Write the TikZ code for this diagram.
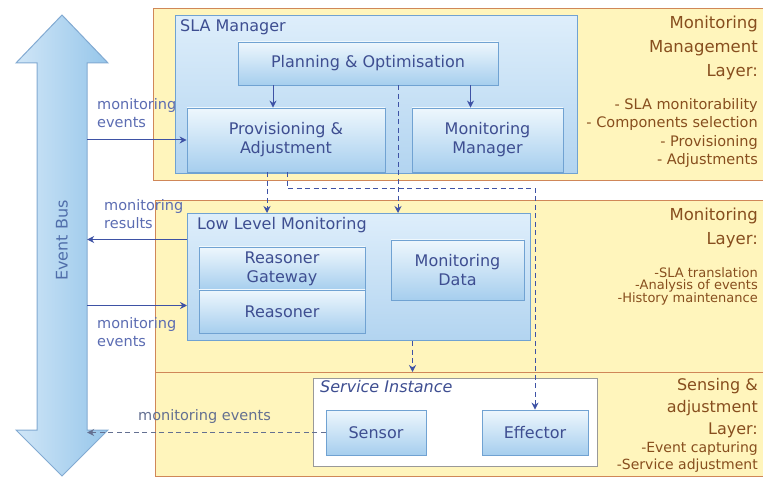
\documentclass[tikz,border=0pt]{standalone}
\usepackage{fontspec}
\setmainfont{DejaVu Sans}
\usetikzlibrary{arrows.meta,positioning}

\definecolor{layerfill}{RGB}{255,245,188}
\definecolor{layerline}{RGB}{208,135,88}
\definecolor{grouptop}{RGB}{222,238,251}
\definecolor{groupbot}{RGB}{178,212,240}
\definecolor{boxlight}{RGB}{238,247,253}
\definecolor{boxdark}{RGB}{166,206,238}
\definecolor{boxline}{RGB}{112,162,210}
\definecolor{boxtext}{RGB}{62,78,145}
\definecolor{layertext}{RGB}{135,78,30}
\definecolor{linkcol}{RGB}{62,82,165}
\definecolor{greylink}{RGB}{100,112,145}
\definecolor{buslight}{RGB}{208,230,247}
\definecolor{busdark}{RGB}{150,198,234}
\definecolor{busline}{RGB}{130,170,210}
\definecolor{bustext}{RGB}{80,110,170}

\newcommand{\compfont}{\fontsize{16}{19}\selectfont}
\newcommand{\labfont}{\fontsize{14.5}{18}\selectfont}
\newcommand{\laytitlefont}{\fontsize{16.5}{24}\selectfont}
\newcommand{\laylistfont}{\fontsize{14.5}{18.5}\selectfont}
\newcommand{\laysmallfont}{\fontsize{13}{12.5}\selectfont\lineskiplimit=-20pt}

\tikzset{
  layer/.style={draw=layerline, fill=layerfill, line width=1.2pt, anchor=north west, inner sep=0pt},
  group/.style={draw=boxline, top color=grouptop, bottom color=groupbot, line width=1pt, anchor=north west, inner sep=0pt},
  service/.style={draw=black!40, fill=white, line width=1.2pt, anchor=north west, inner sep=0pt},
  comp/.style={draw=boxline, top color=boxlight, bottom color=boxdark, text=boxtext, font=\compfont, align=center, inner sep=0pt, line width=0.8pt},
  grouptitle/.style={anchor=north west, text=boxtext, font=\compfont, inner sep=0pt},
  laytitle/.style={anchor=north east, align=right, text=layertext, inner sep=0pt},
  evlabel/.style={anchor=north west, align=left, text=linkcol!85, font=\labfont, inner sep=0pt},
  flow/.style={draw=linkcol, line width=1pt, -{Stealth[length=7pt,width=7pt]}},
  dflow/.style={flow, dash pattern=on 5pt off 3.5pt},
}

\begin{document}
\begin{tikzpicture}[x=1pt,y=-1pt]
  \useasboundingbox (0,0) rectangle (763,478);
  % layers
  \node[layer, minimum width=614, minimum height=172] (mgmt) at (153,8) {};
  \node[layer, minimum width=612, minimum height=172] (mon) at (155,200) {};
  \node[layer, minimum width=612, minimum height=104] (sense) at (155,372) {};

  % event bus
  \node[minimum width=50, minimum height=367, inner sep=0pt] (bus) at (62,246.5) {};
  \path[draw=busline, left color=buslight, right color=busdark, line width=1pt]
    (37,63) -- (16,63) -- (62,15) -- (108,63) -- (87,63) -- (87,430)
    -- (108,430) -- (62,476) -- (16,430) -- (37,430) -- cycle;
  \node[rotate=90, text=bustext, font=\compfont] (bustitle) at ([yshift=6pt]bus.center) {Event Bus};

  % SLA manager
  \node[group, minimum width=402, minimum height=158] (sla) at (175,15) {};
  \node[grouptitle] (slatitle) at ([shift={(5,4)}]sla.north west) {SLA Manager};
  \node[comp, minimum width=260, minimum height=43] (plan) at (368,63.5) {Planning \& Optimisation};
  \node[comp, minimum width=198, minimum height=64] (prov) at (286,140) {Provisioning \&\\Adjustment};
  \node[comp, minimum width=151, minimum height=64] (mmgr) at (487.5,140) {Monitoring\\Manager};

  % low level monitoring
  \node[group, minimum width=343, minimum height=127] (llm) at (187,213) {};
  \node[grouptitle] (llmtitle) at ([shift={(10,4)}]llm.north west) {Low Level Monitoring};
  \node[comp, minimum width=166, minimum height=43] (gate) at (282,268.5) {Reasoner\\Gateway};
  \node[comp, minimum width=166, minimum height=43] (reas) at (282,311.5) {Reasoner};
  \node[comp, minimum width=133, minimum height=60] (mdata) at (457.5,270) {Monitoring\\Data};

  % service instance
  \node[service, minimum width=284, minimum height=88] (inst) at (313,378) {};
  \node[grouptitle, font=\compfont\itshape] (insttitle) at ([shift={(7,2)}]inst.north west) {Service Instance};
  \node[comp, minimum width=100, minimum height=45] (sensor) at (376,432.5) {Sensor};
  \node[comp, minimum width=106, minimum height=45] (eff) at (535,432.5) {Effector};

  % internal flows
  \draw[flow] ([xshift=-13pt]prov.north |- plan.south) -- ([xshift=-13pt]prov.north);
  \draw[flow] ([xshift=-17pt]mmgr.north |- plan.south) -- ([xshift=-17pt]mmgr.north);
  \draw[dflow] ([xshift=30pt]plan.south) -- ([xshift=30pt]plan.south |- llm.north);
  \draw[dflow] ([xshift=-19pt]prov.south) -- ([xshift=-19pt]prov.south |- llm.north);
  \draw[dflow] ([xshift=1pt]prov.south) -- ++(0,16) -| (eff.north);
  \draw[dflow] ([xshift=53.5pt]llm.south) -- ([xshift=53.5pt]llm.south |- sense.north);

  % event bus flows
  \draw[flow] (bus.east |- prov.west) -- (prov.west);
  \draw[flow] ([yshift=37.5pt]llm.west) -- ([yshift=37.5pt]llm.west -| bus.east);
  \draw[flow] ([yshift=-28.5pt]llm.west -| bus.east) -- ([yshift=-28.5pt]llm.west);
  \draw[dflow, draw=greylink] (sensor.west) -- (sensor.west -| bus.east);
  \node[evlabel] (evtop) at (97,98) {monitoring\\events};
  \node[evlabel] (evres) at (104,199) {monitoring\\results};
  \node[evlabel] (evmid) at (97,317) {monitoring\\events};
  \node[evlabel, text=greylink] (evsens) at (138,409) {monitoring events};

  % layer descriptions
  \node[laytitle, font=\laytitlefont] (mgmttitle) at (758,16) {Monitoring\\Management\\Layer:};
  \node[laytitle, font=\laylistfont] (mgmtlist) at (758,98) {- SLA monitorability\\- Components selection\\- Provisioning\\- Adjustments};
  \node[laytitle, font=\laytitlefont] (montitle) at (758,208) {Monitoring\\Layer:};
  \node[laytitle, font=\laysmallfont] (monlist) at (758,267) {-SLA translation\\-Analysis of events\\-History maintenance};
  \node[laytitle, font=\fontsize{16}{22}\selectfont] (sensetitle) at (758,378) {Sensing \&\\adjustment\\Layer:};
  \node[laytitle, font=\fontsize{14}{17}\selectfont] (senselist) at (758,442) {-Event capturing\\-Service adjustment};
\end{tikzpicture}
\end{document}
